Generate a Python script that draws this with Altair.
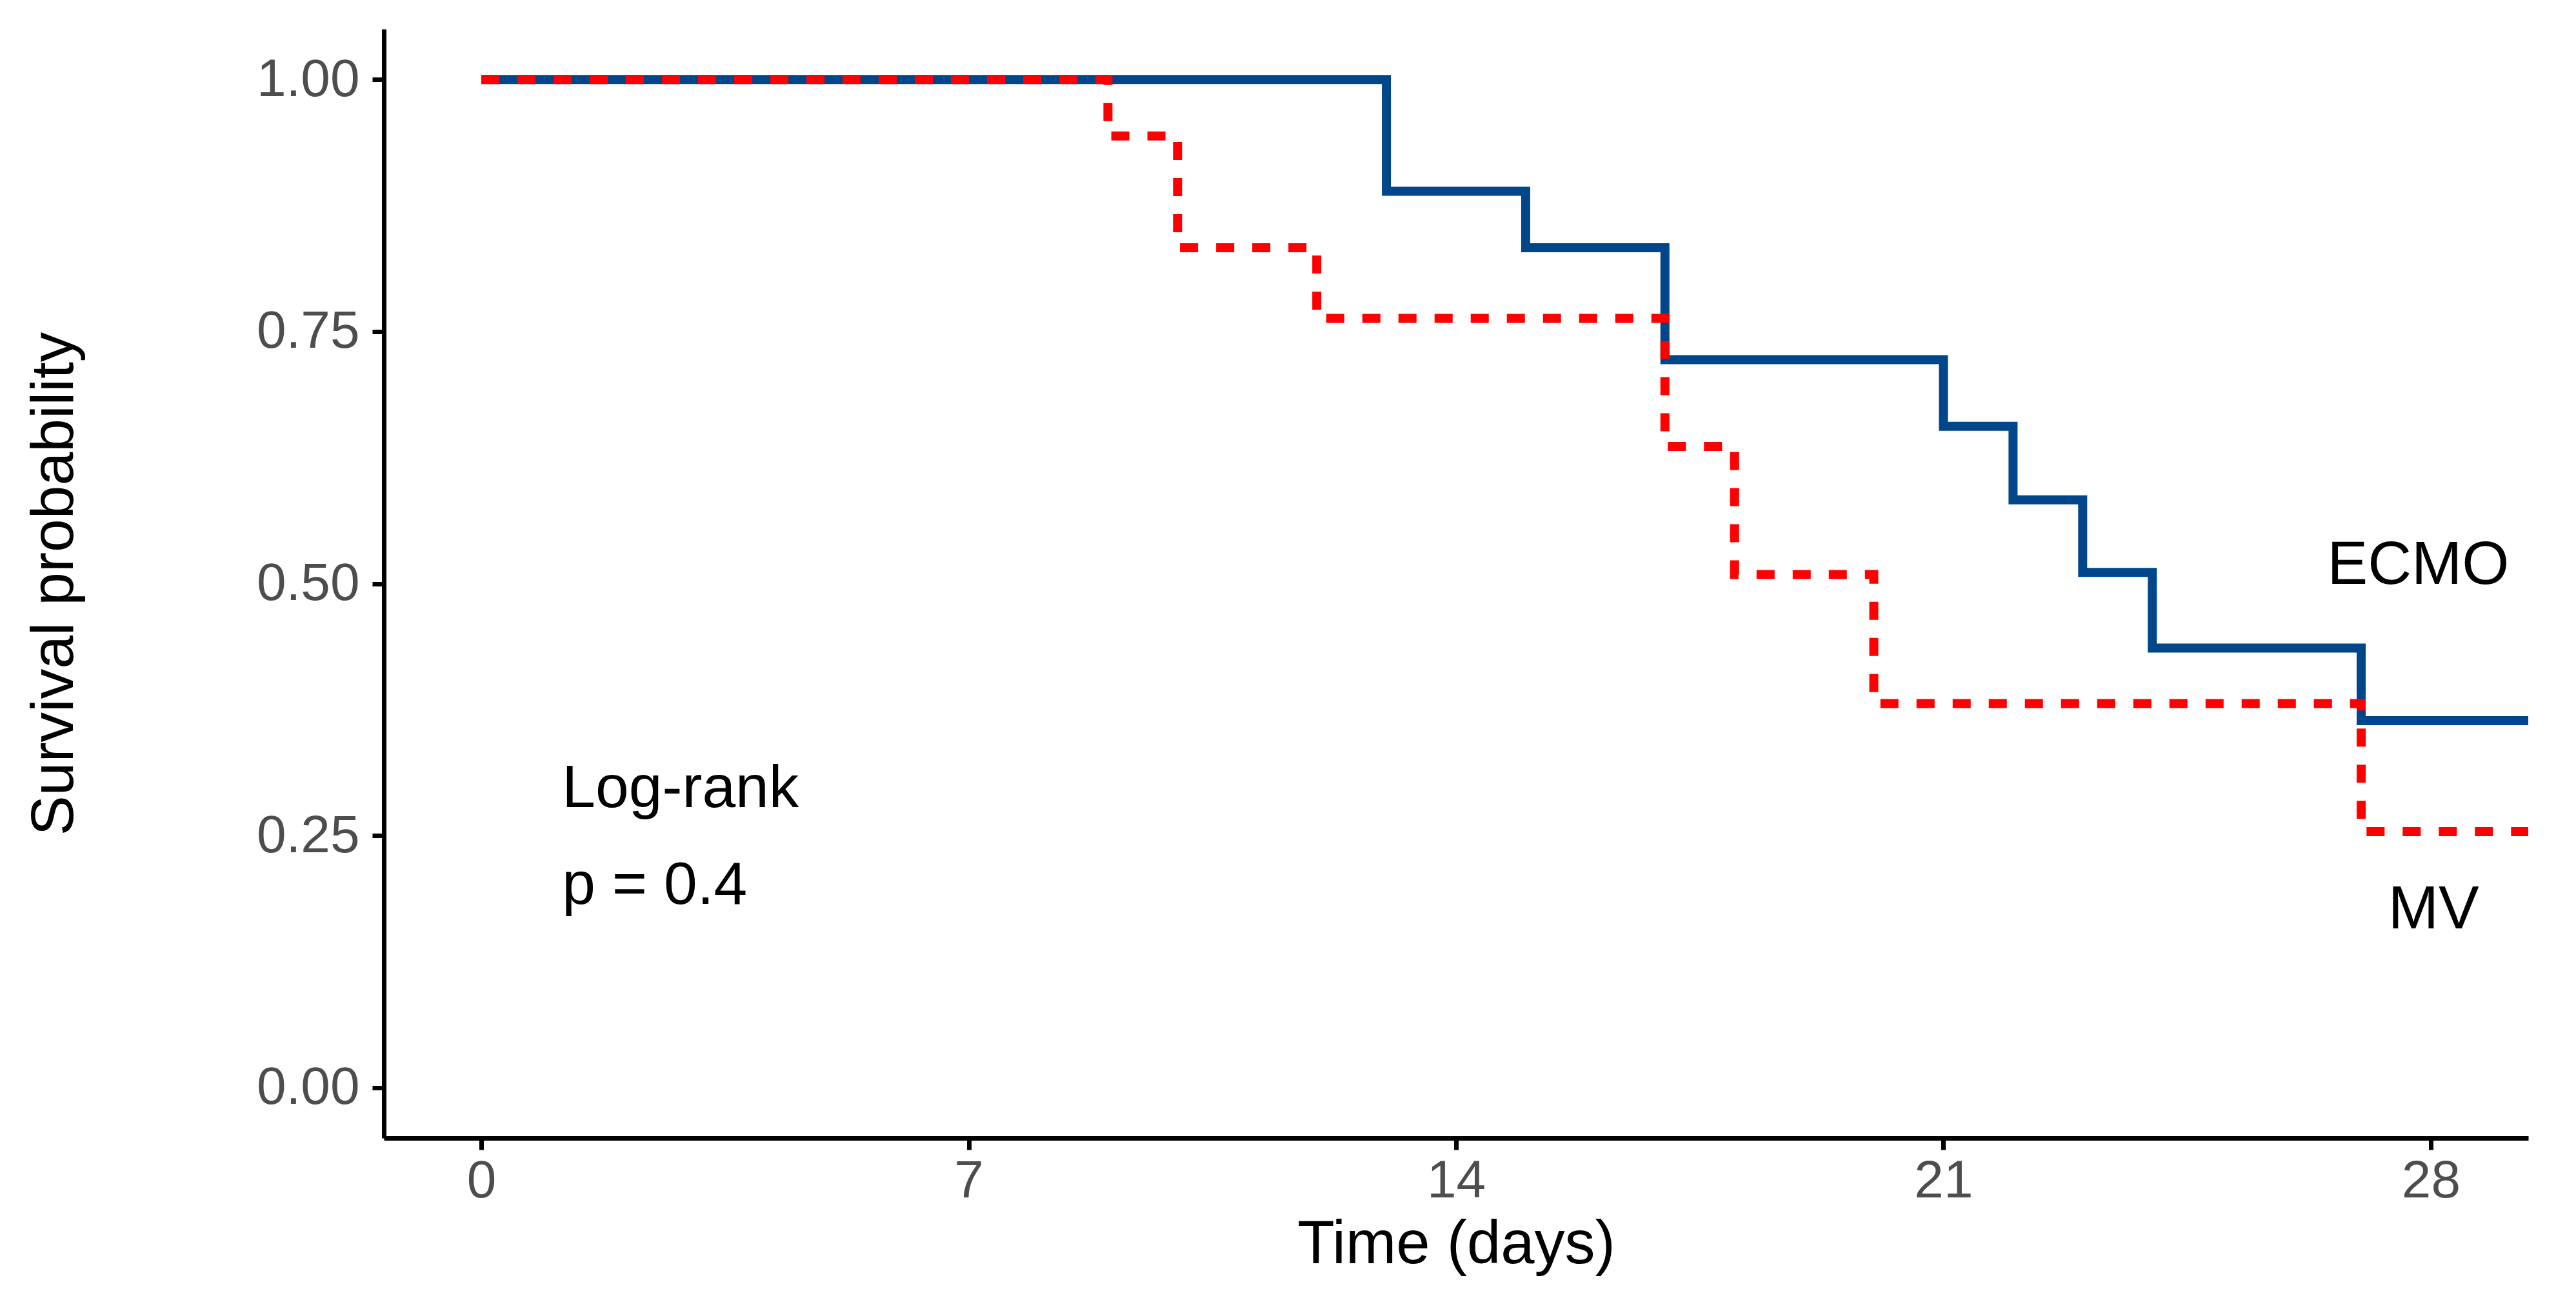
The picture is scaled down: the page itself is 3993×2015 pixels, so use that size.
import altair as alt
import pandas as pd

# Kaplan-Meier step data
ecmo_time = [0, 13, 15, 17, 21, 22, 23, 24, 27, 30]
ecmo_surv = [1.0, 0.889, 0.833, 0.722, 0.656, 0.583, 0.511, 0.436, 0.364, 0.364]
mv_time = [0, 9, 10, 12, 17, 18, 20, 27, 30]
mv_surv = [1.0, 0.944, 0.833, 0.763, 0.636, 0.509, 0.381, 0.254, 0.254]

x_ticks = [0, 7, 14, 21, 28]
y_ticks = [0.0, 0.25, 0.5, 0.75, 1.0]

annot_left_text = ["Log-rank", "p = 0.4"]
annot_left_x = [1.16, 1.16]
annot_left_y = [0.278, 0.182]

group_text = ["ECMO", "MV"]
group_x = [27.82, 28.04]
group_y = [0.500, 0.158]

FONT = "Liberation Sans"

ecmo_df = pd.DataFrame({"time": ecmo_time, "surv": ecmo_surv})
mv_df = pd.DataFrame({"time": mv_time, "surv": mv_surv})
left_df = pd.DataFrame({"x": annot_left_x, "y": annot_left_y, "label": annot_left_text})
grp_df = pd.DataFrame({"x": group_x, "y": group_y, "label": group_text})

xscale = alt.Scale(domain=[-1.4, 29.4], nice=False, zero=False)
yscale = alt.Scale(domain=[-0.05, 1.05], nice=False, zero=False)

xaxis = alt.Axis(values=x_ticks, format="d", title="Time (days)", labelFontSize=82, labelColor="#4D4D4D",
                 labelPadding=8, titleFontSize=94, titleColor="black", titleFontWeight="normal",
                 titleY=193, titleBaseline="alphabetic", labelFlush=False)
yaxis = alt.Axis(values=y_ticks, format=".2f", title="Survival probability", labelFontSize=82,
                 labelColor="#4D4D4D", labelPadding=20, titleFontSize=93, titleColor="black",
                 titleFontWeight="normal", titleX=-483, titleBaseline="alphabetic", titleAngle=-90,
                 labelFlush=False)

ecmo_line = alt.Chart(ecmo_df).mark_line(
    interpolate="step-after", color="#00468B", strokeWidth=14, clip=True, strokeCap="butt"
).encode(
    x=alt.X("time:Q", scale=xscale, axis=xaxis),
    y=alt.Y("surv:Q", scale=yscale, axis=yaxis),
)

mv_line = alt.Chart(mv_df).mark_line(
    interpolate="step-after", color="#FF0000", strokeWidth=14, clip=True,
    strokeDash=[28, 28], strokeCap="butt"
).encode(
    x=alt.X("time:Q", scale=xscale),
    y=alt.Y("surv:Q", scale=yscale),
)

left_text = alt.Chart(left_df).mark_text(
    align="left", baseline="alphabetic", fontSize=93, font=FONT, color="black"
).encode(
    x=alt.X("x:Q", scale=xscale),
    y=alt.Y("y:Q", scale=yscale),
    text="label:N",
)

grp_label = alt.Chart(grp_df).mark_text(
    align="center", baseline="alphabetic", fontSize=94, font=FONT, color="black"
).encode(
    x=alt.X("x:Q", scale=xscale),
    y=alt.Y("y:Q", scale=yscale),
    text="label:N",
)

chart = alt.layer(ecmo_line, mv_line, left_text, grp_label).properties(
    width=3324,
    height=1719,
    autosize=alt.AutoSizeParams(type="none"),
    padding={"left": 587, "top": 37, "right": 60, "bottom": 240},
    background="white",
).configure_view(
    stroke=None
).configure_axis(
    grid=False,
    domainColor="black",
    domainWidth=7,
    tickColor="black",
    tickWidth=7,
    tickSize=18,
    labelFont=FONT,
    titleFont=FONT,
)

chart.save("out.html", embed_options={"renderer": "svg", "actions": False})
